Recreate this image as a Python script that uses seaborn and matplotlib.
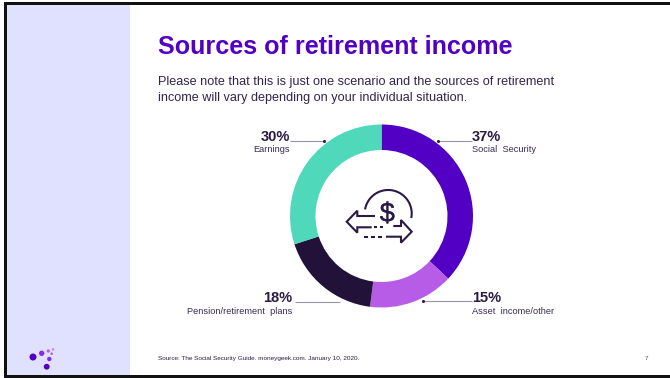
import numpy as np
import matplotlib
matplotlib.use("Agg")
import matplotlib.pyplot as plt
import matplotlib.patheffects as pe
from matplotlib.patches import Rectangle, Circle
import seaborn as sns

# Share of retirement income by source, clockwise from twelve o'clock
sources = ["Social  Security", "Asset  income/other", "Pension/retirement  plans", "Earnings"]
shares = [37, 15, 18, 30]
slice_colors = ["#5100C4", "#B65CE6", "#221139", "#4FD8BA"]

title = "Sources of retirement income"
subtitle_lines = ["Please note that this is just one scenario and the sources of retirement",
                  "income will vary depending on your individual situation."]
source_note = "Source: The Social Security Guide. moneygeek.com. January 10, 2020."
page_number = "7"

INK = "#2A1A45"
BODY = "#33244F"
MUTED = "#9C93B0"

sns.set_theme(style="white", palette=sns.color_palette(slice_colors))
plt.rcParams["font.family"] = ["Liberation Sans", "DejaVu Sans"]

W, H = 670, 378
fig = plt.figure(figsize=(W / 100, H / 100), dpi=100, facecolor="white")

# Slide layer measured in pixels with the origin at the top left
slide = fig.add_axes([0, 0, 1, 1])
slide.set_xlim(0, W)
slide.set_ylim(H, 0)
slide.axis("off")

slide.add_patch(Rectangle((7, 5), 123, 370, facecolor="#E0E0FF", edgecolor="none", zorder=1))
# Slide frame
slide.add_patch(Rectangle((4, 2), W - 4, 3, facecolor="#111111", edgecolor="none", zorder=5))
slide.add_patch(Rectangle((4, 375), W - 4, 3, facecolor="#111111", edgecolor="none", zorder=5))
slide.add_patch(Rectangle((4, 2), 3, H - 2, facecolor="#111111", edgecolor="none", zorder=5))

slide.text(158, 54.3, title, fontsize=18.05, fontweight="bold", color="#5100C4", va="baseline", ha="left")
for y, line in zip((84.5, 100.5), subtitle_lines):
    slide.text(158, y, line, fontsize=9.05, color=BODY, va="baseline", ha="left")
slide.text(158, 360, source_note, fontsize=4.55, color=INK, va="baseline", ha="left")
slide.text(646, 360, page_number, fontsize=4.55, color="#5A5070", va="baseline", ha="center")

# Logo dots
for x, y, r, c in [(33, 357, 3.5, "#5100C4"), (41.7, 353.3, 2.7, "#8A2BE2"),
                   (48.3, 351, 1.6, "#B65CE6"), (53, 349.3, 1.3, "#C98BEA"),
                   (51.7, 353.7, 1.3, "#B65CE6"), (49.3, 359, 2.2, "#8A2BE2"),
                   (46.7, 366.7, 2.9, "#5100C4")]:
    slide.add_patch(Circle((x, y), r, facecolor=c, edgecolor="none", zorder=3))

# Donut
cx, cy, outer, inner = 381.5, 216, 91.5, 66
donut = fig.add_axes([(cx - outer) / W, 1 - (cy + outer) / H, 2 * outer / W, 2 * outer / H])
donut.pie(shares, colors=sns.color_palette(slice_colors), startangle=90, counterclock=False,
          radius=1, wedgeprops=dict(width=1 - inner / outer, edgecolor="none"))
donut.set_xlim(-1, 1)
donut.set_ylim(-1, 1)
donut.set_aspect("equal")
donut.axis("off")

# Callouts: slice index, text x, value baseline, label baseline, leader span and y, text side
callouts = [(0, 472, 141.3, 152.5, 438, 472, 141, "left", True),
            (1, 472, 302.5, 314, 422.7, 472, 301, "left", True),
            (2, 292, 302.5, 314, 295, 340, 301.5, "right", False),
            (3, 290, 141.3, 152.5, 290, 324, 141, "right", True)]
for i, tx, y_val, y_lab, x0, x1, y_line, side, dotted in callouts:
    slide.text(tx, y_val, f"{shares[i]}%", fontsize=10.5, fontweight="bold", color=INK, ha=side, va="baseline")
    slide.text(tx, y_lab, sources[i], fontsize=6.65, color="#3A2C55", ha=side, va="baseline")
    slide.plot([x0, x1], [y_line, y_line], color=MUTED, lw=0.8, zorder=2, solid_capstyle="butt")
    if dotted:
        dot_x = x0 if side == "left" else x1
        slide.plot([dot_x], [y_line], "o", ms=2.2, mew=0, color=INK, zorder=4)

# Centre icon: coin with dollar sign above two opposing dashed arrows
def stroke(xs, ys):
    slide.plot(xs, ys, color=INK, lw=1.5, solid_capstyle="butt", solid_joinstyle="miter", zorder=4)

angles = np.radians(np.linspace(190, 371, 80))
stroke(388.2 + 23.5 * np.cos(angles), 213.5 + 23.5 * np.sin(angles))
slide.text(387.3, 221.5, "$", fontsize=19.5, color=INK, ha="center", va="baseline", zorder=4,
           path_effects=[pe.withStroke(linewidth=0.25, foreground=INK)])

# Left-pointing arrow
stroke([375, 357.3, 357.3, 346.7, 357.3, 357.3, 371.7],
       [216, 216, 210.7, 221.7, 232.7, 227.3, 227.3])
# Right-pointing arrow
stroke([393.3, 401, 401, 411.7, 401, 401, 386],
       [226, 226, 220, 231.7, 242.7, 236.7, 236.7])
# Dashes along the arrow shafts
for a, b, y in [(374, 377, 227.3), (380, 383, 227.3),
                (364.3, 368.3, 236.7), (370.5, 374.5, 236.7), (378.3, 382.3, 236.7)]:
    stroke([a, b], [y, y])

fig.savefig("out.png", dpi=100, facecolor="white")
